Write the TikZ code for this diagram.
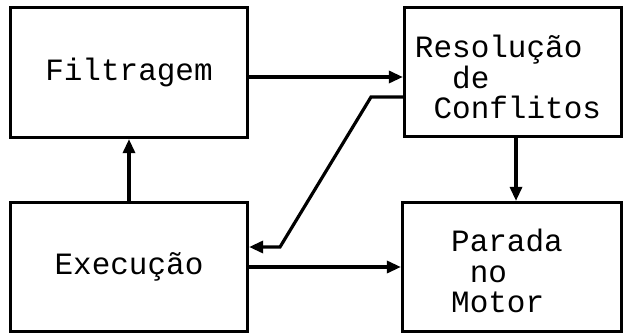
\documentclass[tikz,border=0pt]{standalone}
\usepackage{fontspec}
\newfontfamily\boxfont{Liberation Mono}
\usetikzlibrary{arrows.meta,calc}
\tikzset{
  blk/.style={draw, line width=3.2pt, minimum width=#1, inner sep=0pt, align=left,
    font=\boxfont\fontsize{31}{30.5}\selectfont},
  txt/.style={inner sep=0pt, align=left, font=\boxfont\fontsize{31}{30.5}\selectfont},
  arr/.style={line width=3.2pt, -{Triangle[length=14pt,width=12pt]}},
}
\begin{document}
\begin{tikzpicture}[x=1pt,y=-1pt]
\useasboundingbox (0,0) rectangle (628,334);
\node[blk=237pt, minimum height=130pt] (F) at (129,72.5) {Filtragem};
\node[blk=237pt, minimum height=129pt] (E) at (129,267) {Execução};
\node[blk=217pt, minimum height=129pt] (R) at (513,72) {};
\node[blk=219pt, minimum height=129pt] (P) at (512,267) {};
\node[txt] (Rt) at (508,77) {Resolução\\\hphantom{Re}de\\\hphantom{R}Conflitos};
\node[txt] (Pt) at (507,271) {Parada\\\hphantom{P}no\\Motor};
\coordinate (k1) at (371,97);
\coordinate (k2) at (280,247);
\draw[arr] ([yshift=-4.5pt]F.east) -- ([yshift=-4.5pt]F.east -| R.west);
\draw[arr] ([yshift=-25pt]R.west) -- (k1) -- (k2) -- ([yshift=20pt]E.east);
\draw[arr] (E.east) -- (E.east -| P.west);
\draw[arr] (E.north) -- (F.south);
\draw[arr] ([xshift=3pt]R.south) -- ([xshift=3pt]R.south |- P.north);
\end{tikzpicture}
\end{document}
